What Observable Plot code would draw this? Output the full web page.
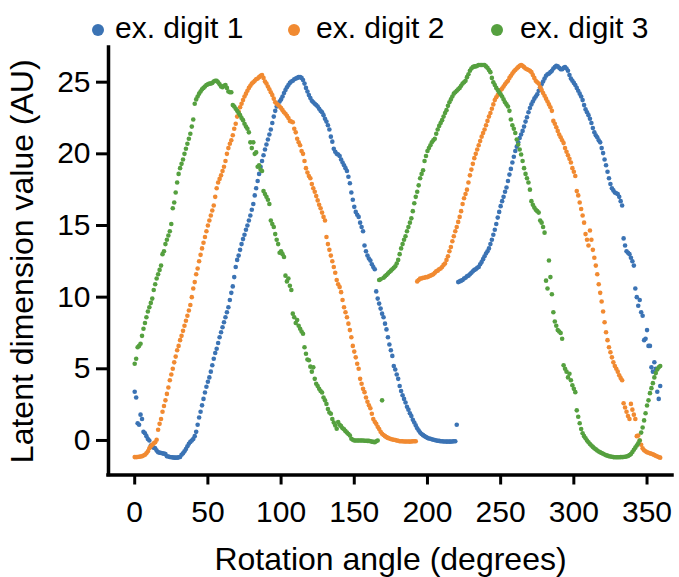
<!DOCTYPE html>
<html><head><meta charset="utf-8">
<script src="https://cdn.jsdelivr.net/npm/d3@7"></script>
<script src="https://cdn.jsdelivr.net/npm/@observablehq/plot@0.6"></script>
<style>
html,body{margin:0;padding:0;background:#fff;}
#chart{width:679px;height:577px;position:relative;font-family:"Liberation Sans",Arial,Helvetica,sans-serif;}
#chart svg{display:block;}
</style></head><body><div id="chart"></div>
<script>
const angles = d3.range(0, 360);

const digit1 = [
3.4, 3.0, 1.2, 1.1, 1.8, 1.5, 0.6, 0.5, 0.3, 0.1,
0.0, -0.35, -0.45, -0.5, -0.55, -0.7, -0.82, -0.85, -0.88, -0.9,
-0.92, -0.95, -1.1, -1.12, -1.15, -1.17, -1.18, -1.2, -1.2, -1.2,
-1.18, -1.15, -1.0, -0.9, -0.75, -0.6, -0.4, -0.23, -0.1, 0.0,
0.1, 0.3, 0.6, 1.1, 1.6, 2.0, 2.45, 2.9, 3.35, 3.75,
4.1, 4.4, 4.8, 5.25, 5.7, 6.1, 6.4, 6.8, 7.2, 7.55,
7.9, 8.25, 8.6, 8.95, 9.3, 9.8, 10.3, 10.75, 11.4, 12.1,
12.6, 12.9, 13.3, 13.7, 14.05, 14.35, 14.7, 15.0, 15.35, 15.7,
16.1, 16.5, 17.1, 17.6, 18.1, 18.6, 19.1, 19.5, 19.9, 20.3,
20.65, 21.0, 21.35, 21.7, 22.15, 22.6, 23.0, 23.3, 23.5, 23.65,
23.8, 24.0, 24.25, 24.45, 24.65, 24.8, 24.95, 25.05, 25.1, 25.2,
25.25, 25.3, 25.35, 25.35, 25.3, 25.15, 24.9, 24.6, 24.35, 24.1,
23.9, 23.7, 23.6, 23.5, 23.4, 23.3, 23.15, 23.0, 22.9, 22.7,
22.45, 22.25, 22.0, 21.7, 21.2, 20.85, 20.35, 20.15, 20.0, 19.95,
19.85, 19.6, 19.4, 19.2, 19.0, 18.8, 18.4, 17.95, 17.3, 16.8,
16.3, 15.95, 15.75, 15.6, 15.2, 14.9, 14.6, 13.6, 13.2, 12.9,
12.7, 12.55, 12.3, 12.1, 11.95, 10.4, 9.9, 9.55, 9.2, 8.85,
8.6, 8.15, 7.75, 7.2, 6.7, 6.3, 5.9, 5.2, 4.95, 4.6,
4.3, 3.8, 3.45, 3.15, 2.9, 2.65, 2.35, 2.15, 1.9, 1.7,
1.45, 1.25, 1.05, 0.85, 0.7, 0.55, 0.45, 0.37, 0.3, 0.24,
0.18, 0.14, 0.12, 0.08, 0.05, 0.03, 0.0, -0.02, -0.03, -0.05,
-0.05, -0.07, -0.07, -0.08, -0.08, -0.08, -0.08, -0.07, -0.06, -0.05,
1.1, 11.05, 11.1, 11.15, 11.2, 11.3, 11.35, 11.45, 11.5, 11.6,
11.7, 11.8, 11.9, 11.95, 12.05, 12.1, 12.3, 12.45, 12.65, 12.85,
13.05, 13.2, 13.4, 13.7, 14.0, 14.35, 14.7, 15.1, 15.55, 15.95,
16.35, 16.7, 17.0, 17.35, 17.65, 18.1, 18.55, 18.95, 19.4, 19.8,
20.2, 20.5, 20.8, 21.1, 21.35, 21.6, 21.9, 22.25, 22.55, 22.9,
23.2, 23.45, 23.65, 23.85, 24.0, 24.15, 24.4, 24.65, 24.85, 25.05,
25.25, 25.45, 25.55, 25.6, 25.7, 25.8, 25.95, 26.05, 26.15, 26.1,
26.0, 25.9, 25.9, 26.0, 26.05, 25.95, 25.8, 25.5, 25.25, 25.1,
24.95, 24.8, 24.6, 24.4, 24.2, 24.0, 23.75, 23.4, 23.1, 22.9,
22.7, 22.45, 22.15, 21.8, 21.5, 21.3, 21.15, 20.95, 20.8, 20.4,
20.05, 19.6, 19.2, 18.75, 18.3, 17.9, 17.6, 17.45, 17.3, 17.25,
17.2, 17.0, 16.7, 16.4, 14.1, 13.6, 13.2, 13.1, 13.0, 12.75,
12.5, 12.2, 10.6, 10.0, 9.4, 9.8, 8.95, 8.7, 7.0, 7.1,
7.7, 6.6, 6.6, 5.1, 4.8, 5.46, 5.0, 3.4, 2.9, 3.8
];

const digit2 = [
-1.16, -1.16, -1.15, -1.14, -1.12, -1.1, -1.05, -1.0, -0.9, -0.75,
-0.55, -0.4, -0.3, -0.2, -0.12, 0.05, 0.75, 1.16, 1.5, 2.0,
2.4, 2.8, 3.25, 3.7, 4.2, 4.6, 5.0, 5.45, 5.85, 6.3,
6.6, 7.0, 7.3, 7.65, 8.0, 8.35, 8.7, 9.07, 9.45, 10.0,
10.6, 11.05, 11.6, 12.0, 12.5, 12.95, 13.4, 13.8, 14.2, 14.6,
15.0, 15.35, 15.7, 16.05, 16.4, 17.0, 17.6, 18.0, 18.25, 18.5,
18.8, 19.1, 19.5, 20.0, 20.4, 20.7, 20.95, 21.3, 21.75, 22.1,
22.6, 22.95, 23.25, 23.5, 23.75, 24.0, 24.2, 24.4, 24.6, 24.75,
24.9, 25.0, 25.1, 25.2, 25.25, 25.35, 25.45, 25.5, 25.3, 25.05,
24.9, 24.7, 24.5, 24.3, 24.1, 23.85, 23.6, 23.5, 23.4, 23.3,
23.2, 23.05, 22.9, 22.8, 22.65, 22.5, 22.3, 22.25, 22.2, 21.75,
21.5, 21.05, 20.8, 20.6, 20.2, 20.0, 19.5, 19.0, 18.7, 18.45,
18.3, 17.9, 17.6, 17.35, 17.05, 16.75, 16.45, 16.2, 15.9, 15.6,
15.35, 14.2, 13.7, 13.3, 12.9, 12.5, 12.1, 11.7, 11.2, 10.9,
10.7, 10.35, 9.8, 9.3, 8.95, 8.6, 8.15, 7.7, 7.2, 6.6,
6.2, 5.8, 5.35, 5.0, 4.3, 3.96, 3.6, 3.37, 3.0, 2.7,
2.45, 2.25, 1.86, 1.5, 1.3, 1.16, 0.95, 0.8, 0.6, 0.47,
0.38, 0.3, 0.23, 0.18, 0.14, 0.1, 0.07, 0.05, 0.03, 0.0,
-0.02, -0.05, -0.05, -0.06, -0.07, -0.07, -0.07, -0.07, -0.08, -0.07,
-0.06, -0.05, -0.05, 11.1, 11.2, 11.3, 11.3, 11.35, 11.35, 11.4,
11.4, 11.45, 11.5, 11.55, 11.6, 11.7, 11.8, 11.85, 11.95, 12.0,
12.1, 12.25, 12.35, 12.6, 12.85, 13.2, 13.5, 13.9, 14.25, 14.6,
14.9, 15.25, 15.6, 16.0, 16.5, 16.9, 17.2, 17.5, 18.0, 18.5,
18.9, 19.3, 19.7, 20.0, 20.3, 20.6, 20.9, 21.2, 21.45, 21.7,
22.0, 22.3, 22.6, 22.85, 23.15, 23.45, 23.75, 23.95, 24.1, 24.3,
24.45, 24.55, 24.7, 24.85, 25.0, 25.1, 25.3, 25.45, 25.6, 25.75,
25.85, 25.95, 26.05, 26.15, 26.2, 26.15, 26.05, 25.95, 25.9, 25.85,
25.8, 25.7, 25.5, 25.3, 25.1, 25.0, 24.9, 24.65, 24.45, 24.25,
24.05, 23.85, 23.65, 23.45, 23.25, 23.0, 22.3, 22.1, 21.85, 21.6,
21.35, 21.15, 20.95, 20.75, 20.4, 20.15, 19.9, 19.65, 19.4, 19.0,
18.75, 18.45, 17.4, 17.1, 16.6, 16.15, 15.7, 15.2, 14.4, 14.0,
13.6, 14.65, 14.0, 13.3, 12.75, 12.2, 11.6, 10.9, 10.3, 9.7,
9.0, 8.25, 7.55, 7.0, 6.5, 6.15, 5.8, 5.45, 5.2, 5.0,
4.8, 4.55, 4.35, 4.2, 2.6, 2.3, 2.0, 1.7, 1.5, 2.55,
2.15, 1.8, 1.5, 0.3, 0.35, 0.0, -0.3, -0.55, -0.68, -0.76,
-0.82, -0.86, -0.9, -0.93, -0.97, -1.02, -1.07, -1.12, -1.16, -1.2
];

const digit3 = [
5.35, 5.7, 6.5, 6.6, 6.75, 7.3, 7.8, 8.2, 8.6, 9.0,
9.3, 9.6, 9.9, 10.5, 10.9, 11.3, 11.6, 11.9, 12.2, 13.0,
13.2, 13.7, 14.0, 14.3, 14.6, 15.1, 16.2, 16.6, 17.3, 18.0,
18.6, 19.0, 19.3, 19.6, 20.0, 20.35, 20.7, 21.05, 21.4, 21.9,
22.4, 23.5, 23.8, 24.0, 24.2, 24.35, 24.5, 24.6, 24.7, 24.8,
24.85, 24.9, 24.9, 24.95, 25.05, 25.1, 25.1, 25.0, 24.85, 24.7,
24.65, 24.75, 24.8, 24.6, 24.35, 24.3, 24.3, 23.4, 23.3, 23.15,
23.0, 22.85, 22.7, 22.5, 22.35, 22.1, 21.9, 21.75, 21.5, 20.8,
20.4, 20.8, 20.0, 20.1, 19.1, 19.2, 18.9, 18.8, 17.4, 17.2,
17.0, 16.8, 16.5, 15.35, 15.1, 14.9, 14.4, 14.0, 13.7, 13.1,
13.2, 13.0, 12.8, 11.5, 11.1, 11.3, 10.8, 10.5, 8.85, 8.6,
8.2, 8.4, 8.0, 7.8, 7.6, 7.45, 6.5, 6.05, 5.65, 5.6,
5.15, 4.8, 5.1, 4.3, 3.96, 3.8, 3.6, 3.45, 3.35, 3.0,
2.8, 2.55, 2.2, 1.95, 1.86, 1.5, 1.25, 1.05, 0.82, 1.28,
1.1, 1.0, 0.85, 0.78, 0.65, 0.55, 0.45, 0.35, 0.12, 0.05,
0.0, 0.0, 0.0, 0.0, 0.0, 0.0, 0.0, -0.02, -0.02, -0.03,
-0.03, -0.05, -0.08, -0.1, -0.12, -0.05, 0.0, 11.2, 11.25, 2.8,
11.35, 11.45, 11.55, 11.65, 11.75, 11.85, 11.95, 12.05, 12.15, 12.35,
12.6, 13.0, 13.4, 13.7, 14.0, 14.25, 14.6, 14.9, 15.2, 15.5,
16.0, 16.55, 17.0, 17.35, 17.8, 18.3, 18.6, 18.85, 19.5, 19.85,
20.2, 20.4, 20.6, 20.8, 20.95, 21.05, 21.4, 21.7, 21.95, 22.15,
22.35, 22.6, 22.85, 23.05, 23.35, 23.6, 23.8, 24.0, 24.2, 24.3,
24.4, 24.5, 24.6, 24.75, 24.9, 25.0, 25.1, 25.35, 25.55, 25.8,
25.95, 26.05, 26.1, 26.1, 26.15, 26.2, 26.2, 26.2, 26.2, 26.2,
26.1, 26.0, 25.85, 25.7, 25.3, 25.0, 24.8, 24.6, 24.45, 24.3,
24.15, 24.0, 23.8, 23.6, 23.45, 23.3, 23.0, 22.4, 22.0, 21.75,
21.45, 21.0, 20.65, 20.3, 19.95, 19.5, 19.0, 18.6, 18.3, 18.0,
17.5, 16.7, 16.45, 16.25, 16.1, 16.0, 15.9, 15.35, 15.2, 14.9,
14.5, 11.15, 10.6, 12.56, 11.4, 10.2, 8.95, 8.3, 8.0, 7.7,
7.6, 7.5, 7.1, 5.25, 5.0, 4.8, 4.4, 4.65, 4.2, 3.85,
3.6, 3.37, 2.1, 1.65, 1.2, 0.8, 0.5, 0.3, 0.15, 0.0,
-0.12, -0.25, -0.35, -0.45, -0.55, -0.62, -0.7, -0.77, -0.83, -0.88,
-0.93, -0.98, -1.03, -1.06, -1.1, -1.12, -1.14, -1.16, -1.17, -1.17,
-1.17, -1.17, -1.16, -1.16, -1.15, -1.14, -1.12, -1.08, -1.02, -0.95,
-0.8, -0.65, -0.5, -0.35, -0.2, 0.0, 0.55, 0.9, 1.4, 1.9,
2.44, 2.8, 3.3, 3.65, 4.0, 4.4, 4.7, 4.95, 5.1, 5.2
];

const seriesNames = ["ex. digit 1", "ex. digit 2", "ex. digit 3"];
const seriesColors = ["#3b73b4", "#f18a31", "#55a03f"];
const xTicks = [0, 50, 100, 150, 200, 250, 300, 350];
const yTicks = [0, 5, 10, 15, 20, 25];
const xLabel = "Rotation angle (degrees)";
const yLabel = "Latent dimension value (AU)";

const xDomain = [-17.9, 367.4];
const yDomain = [-2.41, 27.42];
const FONT = '"Liberation Sans", Arial, Helvetica, sans-serif';

const rows = [];
[digit1, digit2, digit3].forEach((vals, k) =>
  vals.forEach((v, i) => rows.push({angle: angles[i], value: v, series: seriesNames[k]})));

const root = document.getElementById("chart");

// Legend (above the plot SVG)
const legendPos = [{cx: 98, tx: 115}, {cx: 294, tx: 316}, {cx: 497, tx: 520}];
const legend = d3.create("svg").attr("width", 679).attr("height", 47)
  .attr("font-family", FONT).attr("font-size", 30);
seriesNames.forEach((name, k) => {
  legend.append("circle").attr("cx", legendPos[k].cx).attr("cy", 30).attr("r", 6)
    .attr("fill", seriesColors[k]);
  legend.append("text").attr("x", legendPos[k].tx).attr("y", 38.3)
    .attr("fill", "#000").text(name);
});
root.appendChild(legend.node());

const chart = Plot.plot({
  width: 679,
  height: 530,
  marginLeft: 108,
  marginRight: 7,
  marginTop: 0,
  marginBottom: 102.5,
  style: {fontFamily: FONT, fontSize: "30px", color: "#000", background: "#fff", overflow: "visible"},
  x: {domain: xDomain},
  y: {domain: yDomain},
  color: {domain: seriesNames, range: seriesColors},
  marks: [
    Plot.dot(rows, {x: "angle", y: "value", fill: "series", r: 2.3, stroke: "none"}),
    Plot.ruleX([xDomain[0]], {stroke: "#000", strokeWidth: 3.5, strokeLinecap: "square"}),
    Plot.ruleY([yDomain[0]], {stroke: "#000", strokeWidth: 3.5, strokeLinecap: "square"}),
    Plot.axisX({ticks: xTicks, tickSize: 10, tickPadding: 15.5, strokeWidth: 3, fontSize: 30, label: null, stroke: "#000", fill: "#000"}),
    Plot.axisY({ticks: yTicks, tickSize: 12, tickPadding: 6, strokeWidth: 3, fontSize: 30, label: null, stroke: "#000", fill: "#000"}),
    Plot.text([xLabel], {frameAnchor: "bottom", textAnchor: "middle", lineAnchor: "middle", dy: 84.5, fontSize: 32, fill: "#000", text: d => d}),
    Plot.text([yLabel], {frameAnchor: "left", textAnchor: "middle", lineAnchor: "middle", rotate: -90, dx: -86.2, fontSize: 32, fill: "#000", text: d => d})
  ]
});
root.appendChild(chart);
</script>
</body></html>
